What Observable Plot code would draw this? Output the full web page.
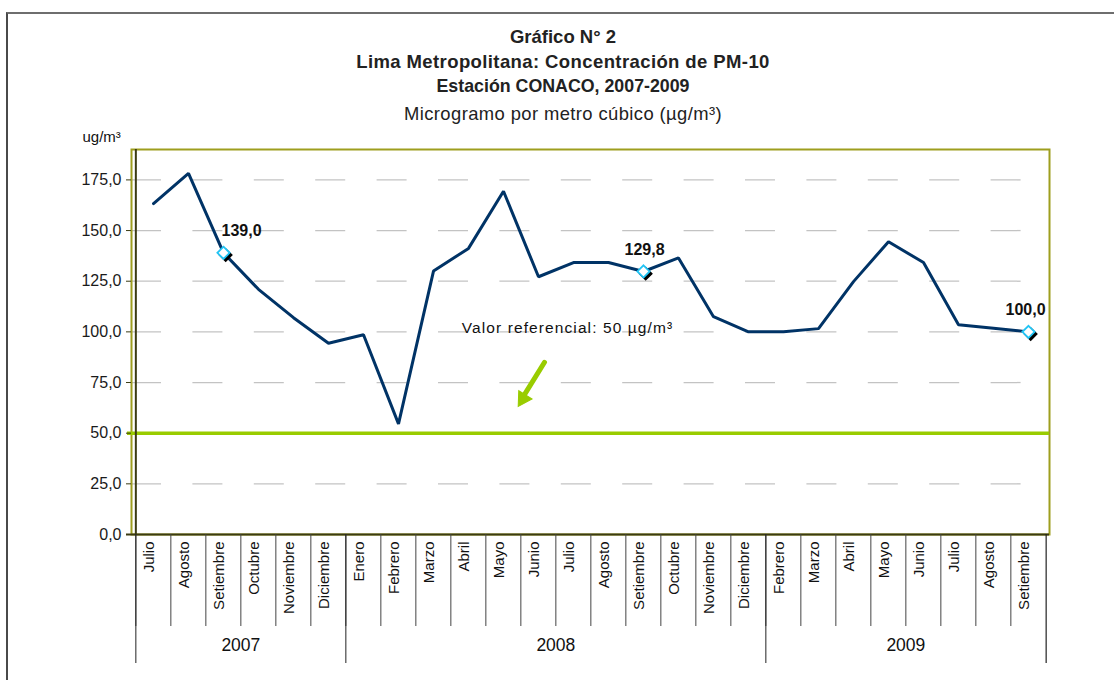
<!DOCTYPE html>
<html><head><meta charset="utf-8">
<script src="https://cdn.jsdelivr.net/npm/d3@7"></script>
<script src="https://cdn.jsdelivr.net/npm/@observablehq/plot@0.6"></script>
<style>
body{margin:0;background:#fff;width:1114px;height:680px;overflow:hidden;position:relative;font-family:"Liberation Sans",Arial,sans-serif}
#outer{position:absolute;left:6px;top:12px;width:1120px;height:680px;border-top:2px solid #6e6e6e;border-left:2px solid #4a4a4a;pointer-events:none}
#title{position:absolute;top:24px;left:6px;width:1114px;text-align:center;font-family:"Liberation Sans",Arial,sans-serif;color:#222;font-size:18.5px;letter-spacing:0.4px}
#title div{height:25px;line-height:25px}
#title .b{font-weight:bold}
#title .t1{letter-spacing:0}
#title .t3{letter-spacing:0;font-size:17.8px}
#title .n{font-weight:normal;height:27px;line-height:27px;margin-top:1px;font-size:18.4px}
#chart{position:absolute;left:0;top:0}
</style></head>
<body>
<div id="chart"></div>
<div id="title">
<div class="b t1">Gráfico N° 2</div>
<div class="b">Lima Metropolitana: Concentración de PM-10</div>
<div class="b t3">Estación CONACO, 2007-2009</div>
<div class="n">Microgramo por metro cúbico (µg/m³)</div>
</div>
<div id="outer"></div>
<script>
// ---- data ----
const years = ["2007", "2008", "2009"];
const months2007 = ["Julio","Agosto","Setiembre","Octubre","Noviembre","Diciembre"];
const months2008 = ["Enero","Febrero","Marzo","Abril","Mayo","Junio","Julio","Agosto","Setiembre","Octubre","Noviembre","Diciembre"];
const months2009 = ["Febrero","Marzo","Abril","Mayo","Junio","Julio","Agosto","Setiembre"];
const values2007 = [163.3, 178.2, 139.0, 121.0, 107.0, 94.4];
const values2008 = [98.6, 54.6, 130.0, 141.2, 169.4, 127.2, 134.2, 134.2, 129.8, 136.5, 107.5, 100.0];
const values2009 = [100.0, 101.6, 124.8, 144.5, 134.2, 103.5, 101.8, 100.0];
const labelledKeys = ["2007-Setiembre", "2008-Setiembre", "2009-Setiembre"];
const yTicks = [0, 25, 50, 75, 100, 125, 150, 175];
const gridTicks = [25, 75, 100, 125, 150, 175];
const refValue = 50;
const refLabel = "Valor referencial: 50 µg/m³";
const yUnit = "ug/m³";

// ---- table ----
const monthsByYear = [months2007, months2008, months2009];
const valuesByYear = [values2007, values2008, values2009];
const data = [];
years.forEach((yr, i) => monthsByYear[i].forEach((m, j) =>
  data.push({year: yr, month: m, key: yr + "-" + m, value: valuesByYear[i][j]})));
const keys = data.map(d => d.key);
const yearStarts = years.map((yr, i) => yr + "-" + monthsByYear[i][0]);
const yearMid = years.map((yr, i) => ({year: yr, key: yr + "-" + monthsByYear[i][Math.floor(monthsByYear[i].length / 2)]}));
const labelled = data.filter(d => labelledKeys.includes(d.key));
const fmt = v => v.toFixed(1).replace(".", ",");

// ---- layout ----
const W = 1114, H = 680, mL = 131, mR = 65, mT = 149, mB = 146;
const step = (W - mL - mR) / keys.length;
const labelDx = [18, 1, -3];
const lineColor = "#003366";
const axisDark = "#3b3b12";
const green = "#99cc00";
const sans = "'Liberation Sans', Arial, sans-serif";

const chart = Plot.plot({
  width: W, height: H,
  marginLeft: mL, marginRight: mR, marginTop: mT, marginBottom: mB,
  style: {background: "transparent", fontFamily: sans, overflow: "visible", color: "#1a1a1a"},
  x: {type: "point", domain: keys, padding: 0.5, axis: null},
  y: {domain: [0, 190], axis: null},
  marks: [
    Plot.ruleY(gridTicks, {stroke: "#c3c3c3", strokeWidth: 1.3, strokeDasharray: "30,31.4"}),
    Plot.frame({stroke: "#9e9e1e", strokeWidth: 2}),
    Plot.ruleY([refValue], {stroke: green, strokeWidth: 3.5, insetLeft: -4}),
    Plot.ruleX([keys[0]], {dx: -step / 2, stroke: axisDark, strokeWidth: 2}),
    Plot.ruleY([0], {stroke: axisDark, strokeWidth: 2, insetLeft: -5}),
    Plot.axisY(yTicks, {label: null, tickSize: 5, tickPadding: 5, tickFormat: fmt, fontSize: 16, stroke: axisDark, fontFamily: sans}),
    // category separators
    Plot.ruleX(keys, {x: d => d, dx: -step / 2, y1: () => 0, y2: () => 0, insetBottom: -92, stroke: "#444", strokeWidth: 1}),
    Plot.ruleX(yearStarts, {x: d => d, dx: -step / 2, y1: () => 0, y2: () => 0, insetBottom: -129, stroke: "#222", strokeWidth: 1}),
    Plot.ruleX([keys[keys.length - 1]], {x: d => d, dx: step / 2, y1: () => 0, y2: () => 0, insetBottom: -129, stroke: "#222", strokeWidth: 1.2}),
    Plot.text(data, {x: "key", text: "month", frameAnchor: "bottom", rotate: -90, textAnchor: "end", dy: 7, fontSize: 15, fill: "#111", fontFamily: sans}),
    Plot.text(yearMid, {x: "key", text: "year", dx: -step / 2, frameAnchor: "bottom", dy: 116, fontSize: 17.5, fill: "#111", fontFamily: sans}),
    Plot.text([yUnit], {text: d => d, frameAnchor: "top-left", textAnchor: "start", lineAnchor: "middle", dx: -49, dy: -12, fontSize: 15, fill: "#111", fontFamily: sans}),
    // reference annotation
    Plot.text([refLabel], {x: () => "2008-Julio", y: () => 102, text: d => d, dx: -6, fontSize: 15.5, fill: "#111", fontFamily: sans}),
    Plot.arrow([refValue], {x1: () => "2008-Junio", y1: () => 85, x2: () => "2008-Mayo", y2: () => 57.1, dx: 6,
      insetEnd: 22, stroke: green, strokeWidth: 5, headLength: 0}),
    Plot.dot([refValue], {x: () => "2008-Mayo", y: () => 67.0, dx: 19.5, symbol: "triangle2", r: 7.5, rotate: 212, fill: green, stroke: green, strokeWidth: 1}),
    // series
    Plot.line(data, {x: "key", y: "value", stroke: lineColor, strokeWidth: 3, strokeLinejoin: "miter"}),
    Plot.dot(labelled, {x: "key", y: "value", symbol: "diamond2", r: 5.5, fill: "#000", stroke: "#000", strokeWidth: 1.5, dx: 2.2, dy: 2.2}),
    Plot.dot(labelled, {x: "key", y: "value", symbol: "diamond2", r: 5.5, fill: "#fff", stroke: "#22c4f4", strokeWidth: 1.8}),
    ...labelled.map((d, i) => Plot.text([d], {x: "key", y: "value", text: v => fmt(v.value), dx: labelDx[i], dy: -22, fontSize: 16, fontWeight: "bold", fill: "#111", fontFamily: sans}))
  ]
});
d3.select(chart).selectAll("text").filter(function () { return this.textContent === refLabel; })
  .style("letter-spacing", "1.1px");
document.getElementById("chart").append(chart);
</script>
</body></html>
